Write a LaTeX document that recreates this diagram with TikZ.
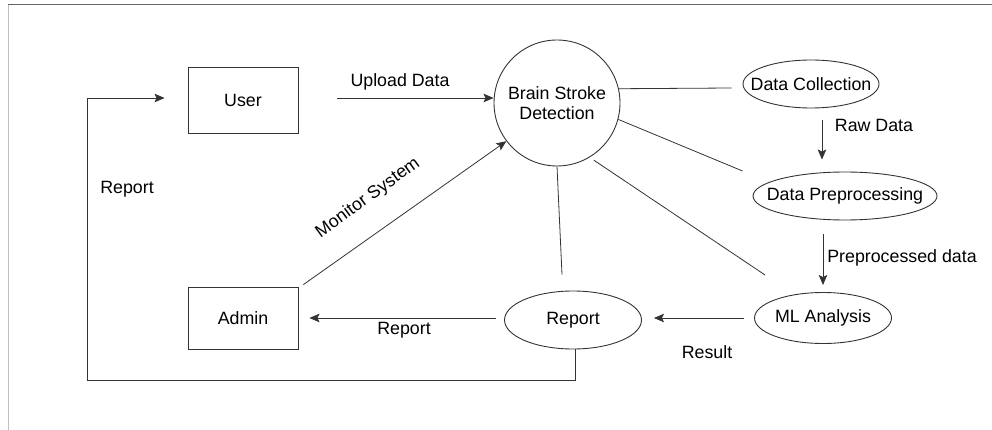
\documentclass[tikz,border=0pt]{standalone}
\usepackage{fontspec}
\setmainfont{Liberation Sans}
\usetikzlibrary{shapes.geometric,arrows.meta,calc}
\begin{document}
\begin{tikzpicture}[x=1pt,y={(0pt,-1pt)},
  font=\fontsize{17.8}{20.5}\selectfont,
  box/.style={draw=black!80,line width=0.9pt,rectangle,minimum width=110pt,inner sep=0pt},
  proc/.style={draw=black!80,line width=0.9pt,ellipse,inner sep=0pt},
  ln/.style={draw=black!80,line width=0.8pt},
  arr/.style={ln,-{Stealth[length=10pt,width=8.5pt,inset=2pt]}},
  lbl/.style={inner sep=0pt}]
\useasboundingbox (0,0) rectangle (992,430);
\draw[black!60,line width=1pt] (8,5) -- (992,5);
\draw[black!25,line width=1pt] (8,5) -- (8,430);

\node[box,minimum height=66pt] (user) at (243,100) {User};
\node[box,minimum height=62pt] (admin) at (243,318) {Admin};
\node[draw=black!80,line width=0.9pt,circle,minimum size=126pt,inner sep=0pt,align=center] (bsd) at (557,103) {Brain Stroke\\Detection};
\node[proc,minimum width=136pt,minimum height=48pt,label={[lbl]center:Data Collection}] (dc) at (811,84) {};
\node[proc,minimum width=184pt,minimum height=48pt,label={[lbl]center:Data Preprocessing}] (dp) at (845,196) {};
\node[proc,minimum width=137pt,minimum height=51pt,label={[lbl]center:ML Analysis}] (ml) at (823,318) {};
\node[proc,minimum width=137pt,minimum height=58pt,label={[lbl]center:Report}] (rep) at (573,320) {};

% labels
\node[lbl] (lup) at (400,82) {Upload Data};
\node[lbl] (lrep1) at (127,189) {Report};
\node[lbl,rotate=36] (lmon) at (368,198) {Monitor System};
\node[lbl] (lrep2) at (404,330) {Report};
\node[lbl] (lres) at (707,352) {Result};
\node[lbl] (lraw) at (874,125) {Raw Data};
\node[lbl] (lpre) at (902,258) {Preprocessed data};

% arrows
\coordinate (upend) at ([yshift=2pt]user.east -| bsd.west);
\draw[arr,shorten <=39pt] ([yshift=2pt]user.east) -- (upend);
\coordinate (loopend) at ([shift={(-23pt,2pt)}]user.west);
\draw[arr] ([xshift=2pt]rep.south) |- (87,380) |- (loopend);
\draw[arr] ([shift={(5pt,2pt)}]admin.north east) -- (bsd.217);
\draw[arr] ([shift={(-8pt,2pt)}]rep.west) -- ([xshift=11pt]admin.east);
\draw[arr] ([xshift=-10pt]ml.west) -- ([shift={(12pt,2pt)}]rep.east);
\coordinate (rawtop) at ([xshift=11pt]dc.south);
\draw[arr,shorten <=12pt,shorten >=12pt] (rawtop) -- (rawtop |- dp.north);
\draw[arr,shorten <=14pt,shorten >=7pt] (dp.south -| ml.north) -- (ml.north);

% plain connectors
\draw[ln] (bsd.13.6) -- ([shift={(-11pt,-4pt)}]dc.west);
\draw[ln] (bsd.-15) -- ([shift={(-10pt,25pt)}]dp.west);
\draw[ln,shorten <=5pt] (bsd.-59) -- ([shift={(11pt,43pt)}]ml.west);
\draw[ln] (bsd.south) -- ([shift={(-11pt,16pt)}]rep.north);
\end{tikzpicture}
\end{document}
